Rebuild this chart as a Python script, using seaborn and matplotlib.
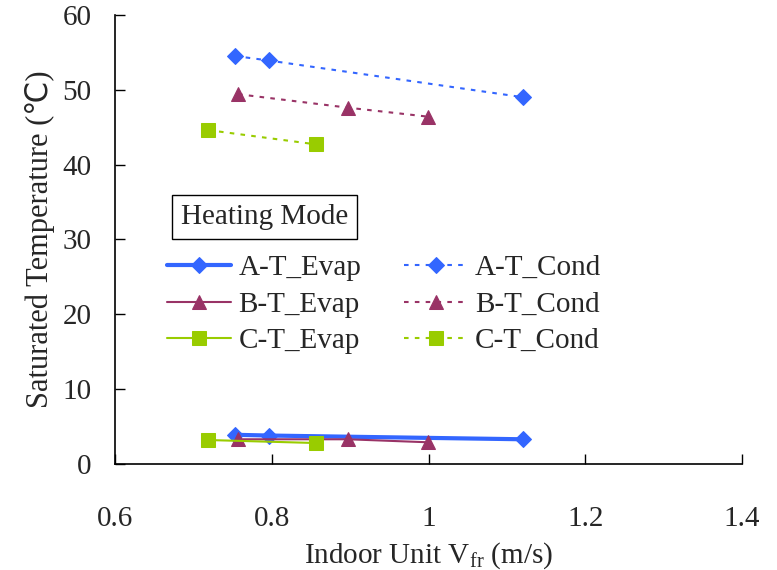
import numpy as np
import pandas as pd
import matplotlib
matplotlib.use("Agg")
import matplotlib.pyplot as plt
import seaborn as sns

# data
a_vfr = [0.753, 0.796, 1.120]
a_evap = [3.9, 3.8, 3.3]
a_cond = [54.5, 53.9, 49.0]

b_vfr = [0.757, 0.897, 0.999]
b_evap = [3.3, 3.3, 2.9]
b_cond = [49.4, 47.6, 46.4]

c_vfr = [0.719, 0.856]
c_evap = [3.2, 2.8]
c_cond = [44.6, 42.7]

x_ticks = [0.6, 0.8, 1.0, 1.2, 1.4]
y_ticks = [0, 10, 20, 30, 40, 50, 60]

sns.set_style("ticks")
plt.rcParams['font.family'] = ['Liberation Serif', 'DejaVu Sans']
plt.rcParams['mathtext.fontset'] = 'custom'
plt.rcParams['mathtext.rm'] = 'Liberation Serif'
plt.rcParams['mathtext.it'] = 'Liberation Serif:italic'

blue = "#3366FF"
maroon = "#993366"
green = "#99CC00"
fs = 21

fig = plt.figure(figsize=(7.77, 5.70), dpi=100)
ax = fig.add_axes([0.148, 0.186, 0.807, 0.788])

series = [
    ("A-T_Evap", a_vfr, a_evap, blue, "D", 3.0, "-"),
    ("B-T_Evap", b_vfr, b_evap, maroon, "^", 1.5, "-"),
    ("C-T_Evap", c_vfr, c_evap, green, "s", 1.5, "-"),
    ("A-T_Cond", a_vfr, a_cond, blue, "D", 1.5, "--"),
    ("B-T_Cond", b_vfr, b_cond, maroon, "^", 1.5, "--"),
    ("C-T_Cond", c_vfr, c_cond, green, "s", 1.5, "--"),
]

for name, xs, ys, col, mk, lw, ls in series:
    df = pd.DataFrame({"x": xs, "y": ys})
    ms = 8 if mk == "D" else 10
    sns.lineplot(data=df, x="x", y="y", ax=ax, color=col, marker=mk,
                 markersize=ms, markeredgecolor=col, linewidth=lw,
                 label=name, sort=False)
    ln = ax.lines[-1]
    if ls == "--":
        ln.set_dashes((2.2, 3.0))

ax.set_xlim(0.6, 1.4)
ax.set_ylim(0, 60)
ax.set_xticks(x_ticks)
ax.set_yticks(y_ticks)
ax.set_xticklabels([f"{v:g}" for v in x_ticks])
ax.set_yticklabels([str(v) for v in y_ticks])
ax.tick_params(axis='both', direction='in', length=7, width=1, labelsize=fs, color='black')
ax.tick_params(axis='x', pad=30)
ax.tick_params(axis='y', pad=17)
sns.despine(ax=ax)
for s in ["left", "bottom"]:
    ax.spines[s].set_color("black")
    ax.spines[s].set_linewidth(1.2)

ax.set_xlabel(r"Indoor Unit V$_{\mathrm{fr}}$ (m/s)", fontsize=fs, labelpad=6)
ax.set_ylabel("Saturated Temperature (℃)", fontsize=22, labelpad=5)

ax.text(0.239, 0.55, "Heating Mode", transform=ax.transAxes, fontsize=fs,
        ha="center", va="center",
        bbox=dict(boxstyle="square,pad=0.3", facecolor="white", edgecolor="black", linewidth=1))

handles, labels = ax.get_legend_handles_labels()
ax.legend(handles, labels, ncol=2, loc="upper left", bbox_to_anchor=(0.083, 0.466),
          frameon=False, fontsize=fs, handlelength=2.2, columnspacing=1.45,
          handletextpad=0.25, labelspacing=0.35, borderpad=0, borderaxespad=0)

fig.savefig("out.png", dpi=100)
